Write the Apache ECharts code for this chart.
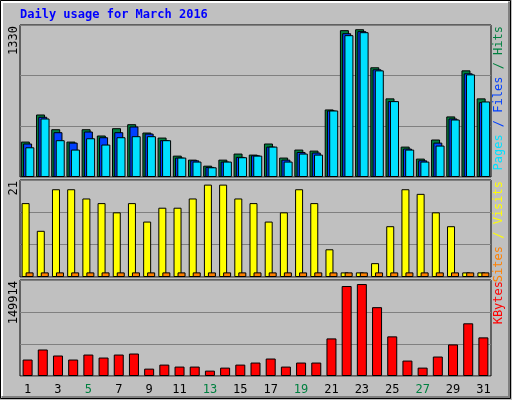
<!DOCTYPE html>
<html>
<head>
<meta charset="utf-8">
<script src="https://cdn.jsdelivr.net/npm/echarts@6/dist/echarts.min.js"></script>
<style>
  html, body { margin: 0; padding: 0; background: #c0c0c0; }
  #chart { width: 512px; height: 400px; }
</style>
</head>
<body>
<div id="chart"></div>
<script>
// Data
var days = ['1','2','3','4','5','6','7','8','9','10','11','12','13','14','15','16',
            '17','18','19','20','21','22','23','24','25','26','27','28','29','30','31'];
var weekend = ['5','6','12','13','19','20','26','27'];
var hits  = [310,547,418,310,418,363,427,462,389,345,187,152,99,152,205,196,293,170,240,231,591,1285,1293,960,688,266,161,328,530,933,688];
var files = [293,527,392,301,398,348,392,442,380,322,170,146,88,135,176,190,266,152,219,214,582,1258,1276,942,664,249,146,301,512,907,655];
var pages = [260,512,322,240,339,284,348,357,357,322,170,135,85,135,173,187,266,135,205,196,582,1241,1267,933,664,240,135,275,503,898,661];
var visits = [16,10,19,19,17,16,14,16,12,15,15,17,20,20,17,16,12,14,19,16,6,1,1,3,11,19,18,14,11,1,1];
var sites  = [1,1,1,1,1,1,1,1,1,1,1,1,1,1,1,1,1,1,1,1,1,1,1,1,1,1,1,1,1,1,1];
var kbytes = [25700,41400,32000,25700,33500,28800,33500,35100,11500,17800,14700,14700,8400,13100,17800,21000,27300,14700,21000,21000,58700,140500,143600,107500,61900,24100,13100,30400,49300,82300,60300];
var maxHits = 1330, maxVisits = 21, maxKbytes = 149914;

var font = '"DejaVu Sans Mono", monospace';
var chart = echarts.init(document.getElementById('chart'), null, { renderer: 'canvas' });

function grid(top, height) {
    return { left: 20, right: 21, top: top, height: height, show: true,
             backgroundColor: '#c0c0c0', borderColor: '#000', borderWidth: 1 };
}
function xAxis(idx, showLabels) {
    return {
        type: 'category', data: days, gridIndex: idx,
        axisLine: { show: false }, axisTick: { show: false },
        axisLabel: {
            show: showLabels, fontFamily: font, fontSize: 12, margin: 8,
            color: function (v) { return weekend.indexOf(v) >= 0 ? '#008040' : '#000'; }
        }
    };
}
function yAxis(idx, max) {
    return {
        type: 'value', gridIndex: idx, min: 0, max: max, interval: max / 3,
        axisLabel: { show: false }, axisLine: { show: false }, axisTick: { show: false },
        splitLine: { lineStyle: { color: '#808080', width: 1 } }
    };
}
function bars(name, data, color, idx, width, gap) {
    return {
        name: name, type: 'bar', data: data, xAxisIndex: idx, yAxisIndex: idx,
        barWidth: width, barGap: gap,
        itemStyle: { color: color, borderColor: '#000', borderWidth: 1 },
        animation: false
    };
}
function sideText(x, y, rich, text) {
    return {
        type: 'text', x: x, y: y, rotation: Math.PI / 2,
        style: { text: text, rich: rich, font: '12px ' + font, align: 'right', verticalAlign: 'middle' }
    };
}

chart.setOption({
    backgroundColor: '#c0c0c0',
    grid: [grid(25, 152), grid(180, 97), grid(280, 96)],
    xAxis: [xAxis(0, false), xAxis(1, false), xAxis(2, true)],
    yAxis: [yAxis(0, maxHits), yAxis(1, maxVisits), yAxis(2, maxKbytes)],
    series: [
        bars('Hits', hits, '#008040', 0, 9, '-75%'),
        bars('Files', files, '#0040ff', 0, 9, '-75%'),
        bars('Pages', pages, '#00e0ff', 0, 9, '-75%'),
        bars('Visits', visits, '#ffff00', 1, 8, '-50%'),
        bars('Sites', sites, '#ff8000', 1, 8, '-50%'),
        bars('KBytes', kbytes, '#ff0000', 2, 10, '0%')
    ],
    graphic: [
        { type: 'rect', shape: { x: 0.5, y: 0.5, width: 510, height: 398 },
          style: { fill: null, stroke: '#000', lineWidth: 1 } },
        { type: 'polyline', shape: { points: [[2, 396], [2, 2], [508, 2]] },
          style: { stroke: '#fff', lineWidth: 2, fill: null } },
        { type: 'polyline', shape: { points: [[2, 397], [509, 397], [509, 2]] },
          style: { stroke: '#808080', lineWidth: 2, fill: null } },
        { type: 'text', x: 20, y: 9,
          style: { text: 'Daily usage for March 2016', font: 'bold 12px ' + font, fill: '#0000ff' } },
        sideText(14, 26, {}, '1330'),
        sideText(14, 181, {}, '21'),
        sideText(14, 281, {}, '149914'),
        sideText(499, 26, {
            p: { fill: '#00e0ff', font: '12px ' + font },
            f: { fill: '#0040ff', font: '12px ' + font },
            h: { fill: '#008040', font: '12px ' + font }
        }, '{p|Pages}{f| / Files}{h| / Hits}'),
        sideText(499, 181, {
            s: { fill: '#ff8000', font: '12px ' + font },
            v: { fill: '#ffff00', font: '12px ' + font }
        }, '{s|Sites}{v| / Visits}'),
        sideText(499, 281, {
            k: { fill: '#ff0000', font: '12px ' + font }
        }, '{k|KBytes}')
    ]
});
</script>
</body>
</html>
